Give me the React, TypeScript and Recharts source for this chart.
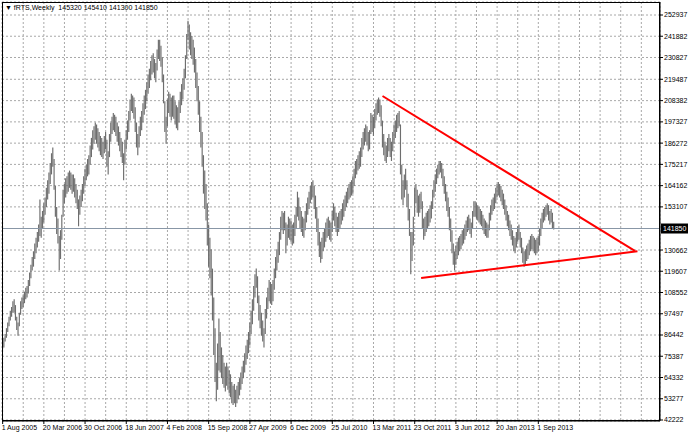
import React from "react";
import { ComposedChart, Bar, XAxis, YAxis, CartesianGrid, ReferenceLine } from "recharts";

// weekly bars, prices in thousands of points (RTS futures)
const lows = [
  79, 80, 83, 85, 88, 91, 94, 96, 98, 98, 94, 89, 86, 91, 97, 100, 101, 103, 105, 106,
  108, 112, 116, 120, 122, 126, 129, 132, 135, 138, 137, 142, 145, 149, 153, 157, 160, 165, 170, 174,
  162, 148, 139, 134, 120, 126, 136, 148, 155, 158, 160, 161, 163, 162, 160, 161, 158, 155, 152, 143,
  149, 153, 156, 160, 164, 167, 169, 170, 175, 179, 183, 186, 188, 186, 184, 182, 180, 179, 178, 181,
  183, 174, 170, 179, 187, 191, 193, 192, 190, 187, 185, 182, 179, 176, 167, 175, 183, 188, 192, 198,
  203, 202, 199, 192, 184, 180, 184, 190, 193, 197, 201, 204, 208, 212, 215, 219, 222, 223, 220, 218,
  224, 230, 229, 226, 218, 207, 192, 186, 195, 202, 200, 198, 200, 199, 196, 194, 193, 197, 202, 206,
  209, 214, 220, 230, 240, 235, 232, 230, 227, 223, 215, 208, 201, 192, 184, 174, 160, 152, 146, 133,
  122, 116, 107, 94, 76, 62, 52, 58, 68, 67, 64, 61, 59, 57, 60, 58, 56, 54, 51, 50,
  51, 49, 51, 53, 55, 58, 61, 64, 67, 71, 74, 77, 81, 87, 92, 99, 106, 111, 103, 94,
  90, 86, 83, 80, 87, 95, 100, 104, 103, 102, 104, 110, 116, 120, 124, 128, 136, 141, 139, 141,
  129, 133, 137, 136, 135, 133, 134, 138, 142, 148, 146, 142, 140, 138, 137, 141, 145, 149, 152, 155,
  157, 158, 152, 147, 140, 133, 127, 124, 126, 130, 132, 135, 137, 138, 136, 135, 140, 146, 143, 140,
  138, 140, 142, 144, 146, 148, 151, 153, 155, 157, 158, 159, 160, 164, 168, 170, 172, 173, 174, 179,
  183, 185, 187, 185, 182, 183, 191, 192, 190, 194, 198, 201, 202, 200, 195, 184, 180, 177, 176, 179,
  182, 179, 177, 182, 186, 189, 192, 194, 195, 170, 157, 154, 158, 162, 153, 146, 138, 118, 125, 133,
  148, 155, 150, 148, 150, 152, 142, 136, 138, 140, 142, 143, 145, 147, 152, 158, 161, 165, 168, 170,
  171, 168, 164, 160, 156, 151, 148, 141, 135, 129, 123, 120, 123, 126, 128, 130, 131, 133, 134, 136,
  138, 140, 141, 139, 137, 142, 148, 148, 147, 146, 145, 144, 143, 141, 139, 138, 137, 137, 141, 146,
  149, 151, 152, 155, 158, 159, 158, 156, 154, 152, 149, 146, 143, 141, 138, 136, 133, 130, 129, 132,
  135, 136, 132, 129, 124, 122, 123, 125, 126, 128, 130, 131, 130, 129, 128, 129, 130, 133, 138, 142,
  145, 146, 148, 149, 146, 144, 145, 142, 141.3,
];

const highs = [
  83, 85, 87, 90, 93, 96, 99, 101, 104, 105, 102, 96, 93, 98, 104, 106, 107, 109, 111, 112,
  115, 119, 123, 127, 130, 134, 137, 140, 144, 157, 148, 151, 155, 158, 163, 167, 171, 176, 181, 184,
  178, 164, 153, 147, 138, 141, 149, 162, 165, 168, 169, 171, 172, 171, 170, 170, 168, 165, 162, 157,
  159, 162, 165, 169, 173, 175, 178, 180, 185, 189, 193, 195, 197, 196, 194, 192, 190, 189, 187, 190,
  192, 188, 182, 191, 197, 200, 202, 201, 200, 197, 195, 192, 189, 187, 181, 188, 193, 198, 203, 209,
  212, 211, 210, 205, 197, 191, 195, 200, 203, 207, 211, 214, 218, 222, 225, 229, 232, 233, 230, 228,
  235, 240, 240, 237, 231, 222, 208, 200, 209, 213, 212, 210, 211, 211, 208, 206, 205, 208, 213, 217,
  220, 225, 232, 243, 250, 248, 244, 242, 240, 236, 230, 223, 216, 208, 200, 192, 180, 172, 165, 155,
  144, 137, 131, 121, 106, 90, 72, 82, 95, 88, 80, 76, 72, 70, 72, 70, 68, 66, 62, 60,
  61, 58, 60, 62, 64, 67, 70, 73, 77, 81, 84, 88, 93, 99, 105, 112, 118, 121, 117, 107,
  102, 98, 94, 90, 100, 106, 111, 115, 114, 113, 115, 121, 127, 131, 135, 140, 148, 151, 150, 151,
  145, 144, 148, 147, 146, 144, 145, 149, 153, 161, 158, 153, 151, 148, 147, 151, 155, 158, 161, 164,
  166, 167, 164, 159, 153, 147, 140, 135, 137, 140, 142, 145, 147, 148, 146, 145, 151, 155, 153, 150,
  148, 150, 151, 152, 155, 157, 159, 161, 163, 165, 166, 167, 169, 173, 177, 178, 180, 182, 184, 189,
  192, 194, 196, 195, 192, 193, 202, 201, 200, 204, 207, 209, 210, 209, 206, 198, 191, 187, 185, 189,
  191, 189, 187, 192, 196, 198, 201, 202, 203, 196, 175, 167, 170, 173, 167, 160, 152, 140, 140, 148,
  163, 165, 162, 159, 160, 161, 156, 147, 148, 150, 151, 152, 154, 156, 162, 167, 170, 173, 175, 177,
  177, 176, 173, 169, 165, 161, 158, 153, 147, 141, 134, 130, 133, 135, 137, 138, 139, 141, 142, 144,
  146, 148, 149, 147, 145, 151, 156, 156, 155, 154, 153, 152, 151, 149, 147, 146, 145, 144, 150, 154,
  157, 158, 160, 163, 165, 166, 165, 164, 162, 160, 157, 154, 151, 149, 146, 144, 141, 138, 137, 140,
  143, 144, 140, 137, 132, 130, 131, 133, 134, 136, 138, 139, 138, 137, 136, 137, 138, 142, 147, 150,
  152, 153, 154, 155, 154, 151, 152, 150, 145.41,
];

const lastBar = { open: 145320, high: 145410, low: 141300, close: 141850 };

const dateLabels = [
  "1 Aug 2005", "20 Mar 2006", "30 Oct 2006", "18 Jun 2007", "4 Feb 2008",
  "15 Sep 2008", "27 Apr 2009", "6 Dec 2009", "25 Jul 2010", "13 Mar 2011",
  "23 Oct 2011", "3 Jun 2012", "20 Jan 2013", "1 Sep 2013",
];

const priceTicks = [
  252937, 241882, 230827, 219487, 208382, 197327, 186272, 175217, 164162, 153107,
  130662, 119607, 108552, 97497, 86442, 75387, 64332, 53277, 42222,
];

// trend lines drawn by hand on the chart (bar index, price)
const upperTrend = [
  { week: 295, price: 210800 },
  { week: 491, price: 130200 },
];
const lowerTrend = [
  { week: 325, price: 116100 },
  { week: 493, price: 130000 },
];

const BARS_PER_LABEL = 32;
const TOTAL_SLOTS = 511;

const FONT = "'Liberation Sans', Arial, sans-serif";

const data = Array.from({ length: TOTAL_SLOTS }, (_, i) => ({
  i,
  range: i < lows.length ? [lows[i] * 1000, highs[i] * 1000] : null,
}));

function DateTick(props: any) {
  const { x, y, payload } = props;
  const idx = payload.value;
  if (idx % BARS_PER_LABEL !== 0) return null;
  const label = dateLabels[idx / BARS_PER_LABEL];
  if (!label) return null;
  return (
    <g>
      <line x1={x} y1={y} x2={x} y2={y + 3} stroke="#000" />
      <text x={x - 1} y={y + 8.5} fontSize={7} fontFamily={FONT} fill="#000" textAnchor="start">
        {label}
      </text>
    </g>
  );
}

function PriceTag(props: any) {
  const { viewBox } = props;
  if (!viewBox) return null;
  const right = viewBox.x + viewBox.width;
  return (
    <g>
      <rect x={right + 1} y={viewBox.y - 5} width={27} height={10} fill="#000" />
      <text x={right + 3} y={viewBox.y + 2.5} fontSize={7} fontFamily={FONT} fill="#fff">
        {lastBar.close}
      </text>
    </g>
  );
}

export default function App() {
  return (
    <div style={{ position: "fixed", left: 0, top: 0, width: 688, height: 434, background: "#fff" }}>
      <ComposedChart
        width={688}
        height={434}
        data={data}
        margin={{ top: 2, right: 0, bottom: 0, left: 2 }}
        barCategoryGap={0}
      >
        <CartesianGrid stroke="#a8a8a8" strokeDasharray="2 2" />
        <XAxis
          dataKey="i"
          interval={15}
          height={13}
          tickLine={false}
          tickSize={0}
          tickMargin={0}
          axisLine={{ stroke: "#000" }}
          tick={<DateTick />}
        />
        <YAxis
          orientation="right"
          type="number"
          domain={[41702, 259701]}
          allowDataOverflow
          ticks={priceTicks}
          interval={0}
          width={28}
          tickSize={3}
          tickMargin={1}
          axisLine={{ stroke: "#000" }}
          tickLine={{ stroke: "#000" }}
          tick={{ fontSize: 7, fontFamily: FONT, fill: "#000" }}
        />
        <ReferenceLine y={lastBar.close} stroke="#8896a6" label={<PriceTag />} />
        <Bar dataKey="range" fill="#6e6e6e" barSize={1.3} isAnimationActive={false} />
        <ReferenceLine
          segment={[
            { x: upperTrend[0].week, y: upperTrend[0].price },
            { x: upperTrend[1].week, y: upperTrend[1].price },
          ]}
          stroke="#ff0000"
          strokeWidth={2}
        />
        <ReferenceLine
          segment={[
            { x: lowerTrend[0].week, y: lowerTrend[0].price },
            { x: lowerTrend[1].week, y: lowerTrend[1].price },
          ]}
          stroke="#ff0000"
          strokeWidth={2}
        />
      </ComposedChart>
      <div
        style={{
          position: "absolute",
          left: 2,
          top: 2,
          width: 658,
          height: 419,
          border: "1px solid #000",
          boxSizing: "border-box",
          pointerEvents: "none",
        }}
      />
      <div
        style={{
          position: "absolute",
          left: 5,
          top: 4,
          fontFamily: FONT,
          fontSize: 7,
          color: "#000",
          whiteSpace: "pre",
          lineHeight: "8px",
        }}
      >
        {"▼ fRTS,Weekly  " + [lastBar.open, lastBar.high, lastBar.low, lastBar.close].join(" ")}
      </div>
    </div>
  );
}
